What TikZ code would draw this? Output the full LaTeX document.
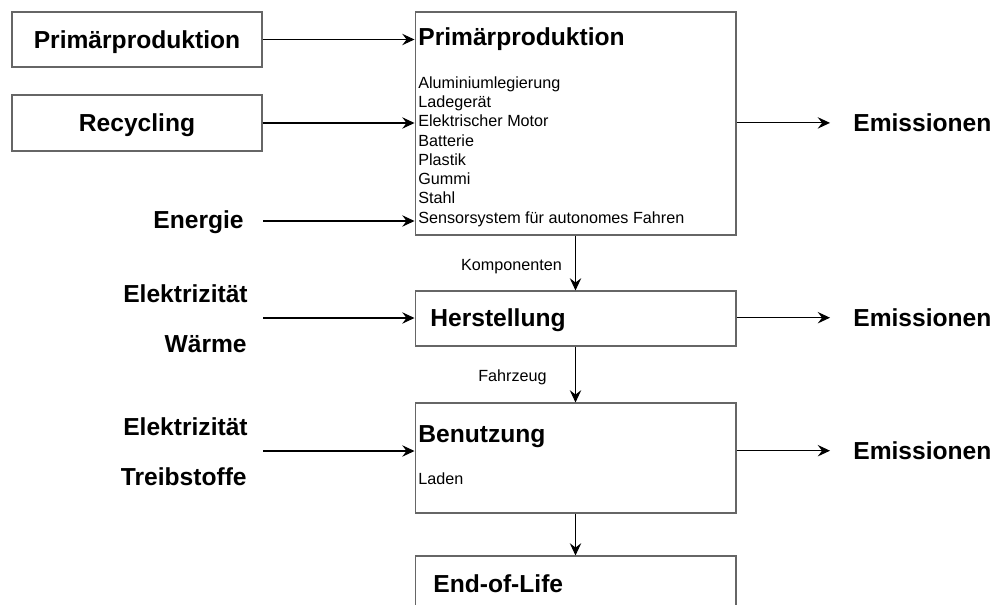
\documentclass[tikz,border=0pt]{standalone}
\usepackage{fontspec}
\setmainfont{Liberation Sans}
\usetikzlibrary{positioning,arrows.meta}

\begin{document}
\begin{tikzpicture}[
				x=0.02cm,
				y=-0.02cm,
				box/.style={
					rectangle,
					draw=black!60,
					line width=0.6pt,
					inner sep=0pt
					},
				title/.style={
					font=\fontsize{14}{17}\selectfont\bfseries,
					inner sep=0pt
					},
				item/.style={
					font=\fontsize{9.2}{11}\selectfont,
					anchor=base west,
					inner sep=0pt
					},
				line/.style={
					draw,
					line width=0.6pt,
					-{Stealth[length=7pt,width=6.5pt,inset=2.5pt]}
					}]
			    \clip (0,0) rectangle (995,605);
			    % Place nodes
			    \node [box, title, text height=10pt, text depth=0pt, minimum width=5cm, minimum height=1.1cm] (primsrc) at (137,39.5) {Primärproduktion};
			    \node [box, title, text height=10pt, text depth=0pt, minimum width=5cm, minimum height=1.12cm] (recyc) at (137,123) {Recycling};
			    \node [title, anchor=base] (energie) at (198.5,228.3) {Energie};

			    \node [box, minimum width=6.42cm, minimum height=4.46cm] (prim) at (575.5,123.5) {};
			    \node [title, anchor=base west] (primtitle) at (418,45.5) {Primärproduktion};
			    \foreach \t [count=\i from 0] in {Aluminiumlegierung, Ladegerät, Elektrischer Motor, Batterie, Plastik, Gummi, Stahl, Sensorsystem für autonomes Fahren}
			        \node [item] (part\i) at (418,{88.3+19.28*\i}) {\t};

			    \node [box, minimum width=6.42cm, minimum height=1.1cm] (herst) at (575.5,318.5) {};
			    \node [title, anchor=base west] (hersttitle) at (430,326) {Herstellung};
			    \node [title, anchor=base east] (strom1) at (248,302) {Elektrizität};
			    \node [title, anchor=base east] (waerme) at (247,352) {Wärme};

			    \node [box, minimum width=6.42cm, minimum height=2.2cm] (nutz) at (575.5,458) {};
			    \node [title, anchor=base west] (nutztitle) at (418,442) {Benutzung};
			    \node [item] (laden) at (418,484) {Laden};
			    \node [title, anchor=base east] (strom2) at (248,435) {Elektrizität};
			    \node [title, anchor=base east] (sprit) at (247,485) {Treibstoffe};

			    \node [box, minimum width=6.42cm, minimum height=2cm] (eol) at (575.5,606) {};
			    \node [title, anchor=base west] (eoltitle) at (433,592.5) {End-of-Life};

			    \node [title, anchor=base west] (emis1) at (853,131.7) {Emissionen};
			    \node [title, anchor=base west] (emis2) at (853,326.5) {Emissionen};
			    \node [title, anchor=base west] (emis3) at (853,459.5) {Emissionen};

			    \coordinate (in1) at (263,221);
			    \coordinate (in2) at (263,318);
			    \coordinate (in3) at (263,451);

			    % Draw edges
			    \path [line] (primsrc) -- (primsrc -| prim.west);
			    \path [line] (recyc) -- (recyc -| prim.west);
			    \path [line] (in1) -- (in1 -| prim.west);
			    \path [line] (in2) -- (in2 -| herst.west);
			    \path [line] (in3) -- (in3 -| nutz.west);
			    \path [line] (prim) -- node [item, anchor=center, xshift=-1.28cm, yshift=-0.08cm] (komp) {Komponenten} (herst);
			    \path [line] (herst) -- node [item, anchor=center, xshift=-1.26cm, yshift=-0.06cm] (fzg) {Fahrzeug} (nutz);
			    \path [line] (nutz) -- (eol);
			    \path [line, shorten >=0.46cm] (prim.east |- emis1.west) -- (emis1.west);
			    \path [line, shorten >=0.46cm] (herst.east |- emis2.west) -- (emis2.west);
			    \path [line, shorten >=0.46cm] (nutz.east |- emis3.west) -- (emis3.west);
\end{tikzpicture}
\end{document}
